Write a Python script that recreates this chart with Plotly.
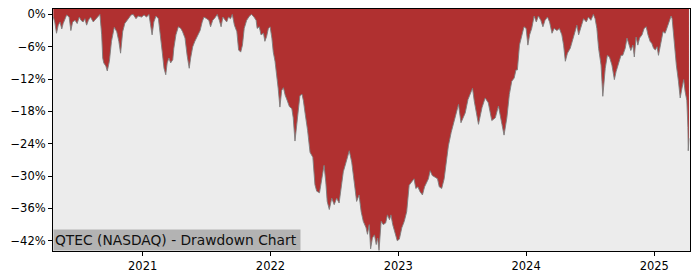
import plotly.graph_objects as go

# ---- data (drawdown in %) ----
dates_2020 = ["2020-04-21","2020-04-25","2020-04-30","2020-05-05","2020-05-10","2020-05-15","2020-05-19","2020-05-24","2020-05-29",
              "2020-06-05","2020-06-10","2020-06-15","2020-06-22","2020-06-28",
              "2020-07-04","2020-07-09","2020-07-15","2020-07-20","2020-07-25","2020-07-30",
              "2020-08-05","2020-08-13","2020-08-21","2020-08-27",
              "2020-09-01","2020-09-06","2020-09-09","2020-09-12","2020-09-18","2020-09-22","2020-09-28",
              "2020-10-04","2020-10-12","2020-10-19","2020-10-25","2020-10-30",
              "2020-11-05","2020-11-11","2020-11-21","2020-11-29",
              "2020-12-05","2020-12-13","2020-12-19","2020-12-29"]
dd_2020 = [-0.5,-1.4,-3.5,-2.0,-1.4,-2.7,-1.7,-0.8,-0.1,
           -0.5,-3.0,-1.4,-1.1,-1.7,
           -0.5,-1.1,-1.4,-0.8,-2.0,-1.1,
           -0.5,-1.4,-0.8,-0.3,
           0.0,-3.8,-8.1,-9.0,-9.6,-10.5,-8.7,
           -5.0,-2.4,-3.2,-5.0,-7.2,
           -3.2,-1.7,-0.8,-0.1,
           0.0,-0.8,-0.3,-0.5]

dates_2021 = ["2021-01-05","2021-01-12","2021-01-19","2021-01-24","2021-01-28",
              "2021-02-02","2021-02-08","2021-02-15","2021-02-21","2021-02-26",
              "2021-03-03","2021-03-08","2021-03-12","2021-03-17","2021-03-22","2021-03-28","2021-03-31",
              "2021-04-06","2021-04-13","2021-04-20","2021-04-25",
              "2021-05-02","2021-05-08","2021-05-14","2021-05-18","2021-05-24","2021-05-30",
              "2021-06-06","2021-06-14","2021-06-20","2021-06-25",
              "2021-07-03","2021-07-09","2021-07-14","2021-07-20","2021-07-27",
              "2021-08-02","2021-08-08","2021-08-13","2021-08-18","2021-08-24","2021-08-29",
              "2021-09-03","2021-09-09","2021-09-14","2021-09-20","2021-09-27",
              "2021-10-02","2021-10-08","2021-10-13","2021-10-18","2021-10-25",
              "2021-11-02","2021-11-08","2021-11-15","2021-11-21","2021-11-24","2021-11-30",
              "2021-12-05","2021-12-12","2021-12-16","2021-12-21","2021-12-26","2021-12-31"]
dd_2021 = [-0.1,-0.5,0.0,-2.0,-3.8,
           -1.4,-0.3,-0.8,-3.8,-7.0,
           -10.0,-11.2,-9.0,-8.1,-9.0,-8.4,-6.3,
           -3.8,-2.3,-2.6,-3.2,
           -4.4,-7.6,-10.0,-8.1,-6.0,-5.0,
           -4.1,-3.0,-1.4,-0.5,
           -0.8,-1.1,-2.3,-1.1,-0.6,
           0.0,-1.1,-2.3,-0.5,-1.1,-1.4,
           -0.5,-0.8,0.0,-2.0,-3.2,
           -6.6,-7.0,-5.7,-2.6,-1.1,
           -0.3,0.0,-0.5,-1.1,-2.6,-2.3,
           -3.8,-3.5,-5.0,-4.1,-2.6,-2.3]

dates_2022 = ["2022-01-05","2022-01-09","2022-01-14","2022-01-19","2022-01-23","2022-01-28",
              "2022-02-02","2022-02-07","2022-02-12","2022-02-18","2022-02-24",
              "2022-03-03","2022-03-07","2022-03-12","2022-03-17","2022-03-22","2022-03-26",
              "2022-04-01","2022-04-05","2022-04-10","2022-04-17","2022-04-24",
              "2022-05-02","2022-05-08","2022-05-13","2022-05-21","2022-05-27",
              "2022-06-03","2022-06-08","2022-06-12","2022-06-18","2022-06-25",
              "2022-07-02","2022-07-09","2022-07-16","2022-07-22","2022-07-28",
              "2022-08-05","2022-08-14","2022-08-21","2022-08-28",
              "2022-09-04","2022-09-11","2022-09-17","2022-09-23",
              "2022-10-01","2022-10-05","2022-10-10","2022-10-14","2022-10-19","2022-10-25","2022-10-30",
              "2022-11-03","2022-11-07","2022-11-13","2022-11-19","2022-11-26",
              "2022-12-01","2022-12-07","2022-12-11","2022-12-16","2022-12-23","2022-12-29"]
dd_2022 = [-4.4,-7.0,-8.7,-11.0,-13.7,-17.2,
           -14.1,-13.6,-15.0,-16.0,-17.1,
           -17.5,-19.2,-23.5,-20.4,-18.0,-15.1,
           -14.8,-16.0,-18.4,-21.5,-25.6,
           -26.5,-31.6,-32.8,-33.1,-30.5,
           -28.0,-31.1,-34.7,-36.2,-34.1,
           -35.3,-34.1,-35.0,-31.6,-29.2,
           -27.4,-25.3,-27.4,-31.1,
           -34.7,-33.5,-36.6,-38.4,
           -39.6,-40.8,-39.0,-43.5,-41.5,-40.9,-42.7,
           -41.5,-43.8,-38.4,-39.0,-38.7,
           -37.2,-38.1,-37.2,-39.0,-40.8,-42.0]

dates_2023 = ["2023-01-04","2023-01-11","2023-01-18","2023-01-25",
              "2023-02-01","2023-02-09","2023-02-15","2023-02-20","2023-02-26",
              "2023-03-04","2023-03-11","2023-03-17","2023-03-23","2023-03-28",
              "2023-04-02","2023-04-08","2023-04-16","2023-04-23","2023-04-28",
              "2023-05-05","2023-05-12","2023-05-18","2023-05-24",
              "2023-06-01","2023-06-07","2023-06-14","2023-06-22","2023-06-29",
              "2023-07-04","2023-07-11","2023-07-19","2023-07-25",
              "2023-08-01","2023-08-06","2023-08-18","2023-08-28",
              "2023-09-06","2023-09-15","2023-09-25",
              "2023-10-05","2023-10-14","2023-10-24","2023-10-30",
              "2023-11-07","2023-11-14","2023-11-21","2023-11-28",
              "2023-12-03","2023-12-07","2023-12-13","2023-12-20","2023-12-26"]
dd_2023 = [-41.7,-39.6,-38.4,-36.6,
           -31.7,-31.1,-30.5,-32.3,-32.0,
           -32.9,-33.5,-32.0,-31.1,-30.5,
           -29.0,-29.9,-30.2,-30.5,-32.0,
           -32.3,-30.5,-27.4,-24.4,
           -21.9,-20.4,-18.3,-16.7,-20.1,
           -19.2,-18.3,-15.8,-14.9,
           -13.7,-16.1,-20.4,-17.3,
           -15.5,-16.4,-19.7,
           -19.2,-17.0,-20.4,-22.4,
           -19.2,-14.9,-12.4,-11.8,
           -10.3,-10.3,-5.7,-3.8,-2.3]

dates_2024 = ["2024-01-01","2024-01-06","2024-01-11","2024-01-17","2024-01-24","2024-01-30",
              "2024-02-05","2024-02-12","2024-02-18","2024-02-24",
              "2024-03-02","2024-03-08","2024-03-15","2024-03-21","2024-03-29",
              "2024-04-05","2024-04-12","2024-04-17","2024-04-22","2024-04-28",
              "2024-05-06","2024-05-14","2024-05-20","2024-05-25","2024-05-30",
              "2024-06-03","2024-06-08","2024-06-13","2024-06-21","2024-06-27",
              "2024-07-04","2024-07-11","2024-07-16","2024-07-21","2024-07-26",
              "2024-08-02","2024-08-07","2024-08-14","2024-08-20","2024-08-26",
              "2024-09-02","2024-09-09","2024-09-14","2024-09-21","2024-09-28",
              "2024-10-03","2024-10-10","2024-10-15","2024-10-21","2024-10-26",
              "2024-11-01","2024-11-05","2024-11-10","2024-11-15","2024-11-20","2024-11-27",
              "2024-12-03","2024-12-09","2024-12-14","2024-12-20","2024-12-25","2024-12-30"]
dd_2024 = [-2.6,-5.7,-3.8,-2.6,-0.3,-1.4,
           -0.3,-1.1,-2.3,-1.1,
           -0.5,-1.4,-3.5,-2.6,-3.0,
           -2.6,-3.8,-5.7,-8.7,-7.2,
           -6.3,-4.4,-3.2,-2.0,-3.8,
           -3.0,-1.7,-0.8,-1.4,-0.5,
           -1.1,0.0,-0.8,-2.6,-6.3,
           -9.4,-15.2,-10.0,-7.6,-7.9,
           -9.4,-12.1,-10.6,-9.1,-7.6,
           -7.6,-6.3,-4.4,-5.7,-6.7,
           -5.7,-7.9,-4.2,-5.7,-4.4,-3.8,
           -2.6,-2.3,-3.8,-5.0,-5.4,-6.3]

dates_2025 = ["2025-01-04","2025-01-09","2025-01-13","2025-01-20","2025-01-26",
              "2025-02-01","2025-02-06","2025-02-11","2025-02-18","2025-02-21","2025-02-27",
              "2025-03-05","2025-03-11","2025-03-16","2025-03-21","2025-03-26","2025-03-30",
              "2025-04-04","2025-04-07","2025-04-08","2025-04-10"]
dd_2025 = [-6.6,-6.0,-7.6,-5.0,-3.2,
           -3.5,-2.6,-1.7,-0.3,-0.8,-5.7,
           -9.4,-12.4,-15.5,-13.7,-12.1,-14.3,
           -16.0,-21.0,-25.3,-23.0]

y_tick_vals = [0, -6, -12, -18, -24, -30, -36, -42]
y_tick_text = ["0%", "\u22126%", "\u221212%", "\u221218%", "\u221224%", "\u221230%", "\u221236%", "\u221242%"]
x_tick_vals = ["2021-01-01", "2022-01-01", "2023-01-01", "2024-01-01", "2025-01-01"]
x_tick_text = ["2021", "2022", "2023", "2024", "2025"]
title_text = "QTEC (NASDAQ) - Drawdown Chart"

dates = dates_2020 + dates_2021 + dates_2022 + dates_2023 + dates_2024 + dates_2025
dd = dd_2020 + dd_2021 + dd_2022 + dd_2023 + dd_2024 + dd_2025
assert len(dates) == len(dd)

Y_TOP = 1.0
Y_BOTTOM = -43.9

fig = go.Figure()
# upper boundary of the red fill (top of plot)
fig.add_trace(go.Scatter(x=dates, y=[Y_TOP + 5] * len(dates), mode="lines",
                         line=dict(width=0, color="rgba(0,0,0,0)"), hoverinfo="skip", showlegend=False))
fig.add_trace(go.Scatter(x=dates, y=dd, mode="lines", fill="tonexty", fillcolor="#b03030",
                         line=dict(color="rgba(125,125,125,0.9)", width=1), hoverinfo="skip", showlegend=False))

font = dict(family="DejaVu Sans", size=11.5, color="black")
fig.update_layout(
    width=700, height=280,
    margin=dict(l=53, r=10, t=7, b=28),
    paper_bgcolor="white", plot_bgcolor="#ececec",
    showlegend=False,
    xaxis=dict(type="date", range=["2020-04-20", "2025-04-13"], tickvals=x_tick_vals, ticktext=x_tick_text,
               ticks="outside", ticklen=4, tickcolor="black", showline=True, mirror=True, linecolor="black",
               linewidth=1, showgrid=False, zeroline=False, tickfont=font),
    yaxis=dict(range=[Y_BOTTOM, Y_TOP], tickvals=y_tick_vals, ticktext=y_tick_text,
               ticks="outside", ticklen=4, tickcolor="black", showline=True, mirror=True, linecolor="black",
               linewidth=1, showgrid=False, zeroline=False, tickfont=font),
    annotations=[dict(text=title_text, xref="paper", yref="paper", x=0, y=0, xanchor="left", yanchor="bottom",
                      showarrow=False, bgcolor="#b3b3b3", borderpad=1, width=244, height=18, align="left",
                      font=dict(family="DejaVu Sans", size=13.8, color="#111"))],
)

fig.write_html("out.html")
